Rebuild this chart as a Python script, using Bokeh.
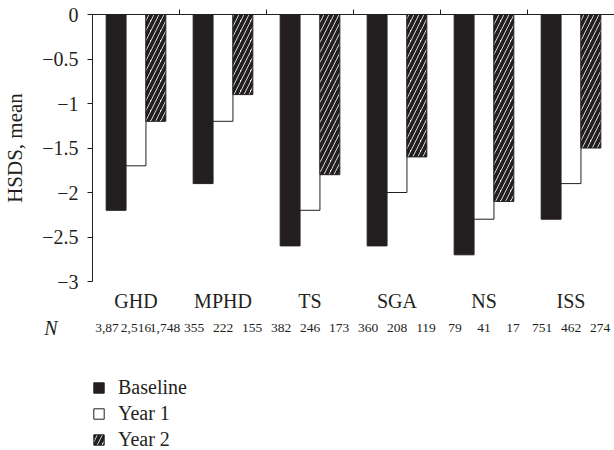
from bokeh.plotting import figure
from bokeh.layouts import column
from bokeh.models import (FactorRange, Range1d, CategoricalAxis, FixedTicker,
                          Legend, LegendItem, ColumnDataSource)
from bokeh.core.properties import value
from bokeh.embed import file_html
from bokeh.resources import INLINE

# ---- data ----
groups = ["GHD", "MPHD", "TS", "SGA", "NS", "ISS"]
series = ["Baseline", "Year 1", "Year 2"]
baseline = [-2.2, -1.9, -2.6, -2.6, -2.7, -2.3]
year1 = [-1.7, -1.2, -2.2, -2.0, -2.3, -1.9]
year2 = [-1.2, -0.9, -1.8, -1.6, -2.1, -1.5]
n_baseline = ["3,87", "355", "382", "360", "79", "751"]
n_year1 = ["2,516", "222", "246", "208", "41", "462"]
n_year2 = ["1,748", "155", "173", "119", "17", "274"]
y_ticks = [0, -0.5, -1, -1.5, -2, -2.5, -3]
y_tick_labels = ["0", "\u22120.5", "\u22121", "\u22121.5", "\u22122", "\u22122.5", "\u22123"]
y_title = "HSDS, mean"
n_title = "N"

FONT = "Liberation Serif"
INK = "#231f20"
W = 614

styles = [
    dict(fill_color=INK, line_color=INK),
    dict(fill_color="white", line_color=INK),
    dict(fill_color="white", line_color=INK, hatch_pattern="/", hatch_color=INK,
         hatch_scale=10, hatch_weight=3.8),
]
series_values = [baseline, year1, year2]
bar_factors = [(g, s) for g in groups for s in series]

# ================= main chart =================
x_range = FactorRange(factors=bar_factors, group_padding=1.375, range_padding=0.6875,
                      range_padding_units="absolute")

p = figure(width=W, height=314, x_range=x_range, y_range=Range1d(min(y_ticks), max(y_ticks)),
           output_backend="svg", toolbar_location=None, x_axis_location=None,
           min_border_left=92, min_border_right=0, min_border_top=14, min_border_bottom=33)
p.outline_line_color = None
p.grid.grid_line_color = None

for s, vals, st in zip(series, series_values, styles):
    src = ColumnDataSource(dict(x=[(g, s) for g in groups], top=vals))
    p.vbar(x="x", top="top", bottom=0, width=1.0, source=src, line_width=1, **st)

yax = p.yaxis[0]
yax.ticker = FixedTicker(ticks=y_ticks)
yax.major_label_overrides = {t: l for t, l in zip(y_ticks, y_tick_labels)}
yax.axis_label = y_title
yax.axis_label_text_font = FONT
yax.axis_label_text_font_size = "21px"
yax.axis_label_text_font_style = "normal"
yax.axis_label_text_color = INK
yax.axis_label_standoff = 12
yax.major_label_text_font = FONT
yax.major_label_text_font_size = "20px"
yax.major_label_text_color = INK
yax.major_label_standoff = 9
yax.major_tick_out = 5
yax.major_tick_in = 0
yax.minor_tick_line_color = None
yax.axis_line_color = INK
yax.major_tick_line_color = INK

boundaries = ["edge%d" % i for i in range(len(groups) + 1)]
p.extra_x_ranges = {
    "edges": FactorRange(factors=boundaries, range_padding=-0.5, range_padding_units="absolute"),
    "grp": FactorRange(factors=groups),
}

top = CategoricalAxis(x_range_name="edges", major_tick_out=5, major_tick_in=0,
                      major_label_text_font_size="0px", major_label_standoff=0,
                      axis_line_color=INK, major_tick_line_color=INK)
p.add_layout(top, "above")

gax = CategoricalAxis(x_range_name="grp", axis_line_color=None, major_tick_line_color=None,
                      major_tick_out=0, major_tick_in=0, major_label_standoff=8,
                      major_label_text_font=FONT, major_label_text_font_size="20px",
                      major_label_text_color=INK)
p.add_layout(gax, "below")

# ================= N row =================
n_factors = [(g, n) for g, a, b, c in zip(groups, n_baseline, n_year1, n_year2) for n in (a, b, c)]
n_text = [f[1] for f in n_factors]
pn = figure(width=W, height=26, x_range=FactorRange(factors=n_factors, group_padding=0.0,
                                                     range_padding=0.0, range_padding_units="absolute"),
            y_range=FactorRange(factors=[n_title]), output_backend="svg", toolbar_location=None,
            x_axis_location=None, min_border_left=92, min_border_right=0,
            min_border_top=0, min_border_bottom=0)
pn.outline_line_color = None
pn.grid.grid_line_color = None
nsrc = ColumnDataSource(dict(x=n_factors, y=[n_title] * len(n_factors), t=n_text))
pn.text(x="x", y="y", text="t", source=nsrc, text_align="center", text_baseline="middle",
        text_font=value(FONT), text_font_size=value("13.5px"), text_color=INK)
nyax = pn.yaxis[0]
nyax.axis_line_color = None
nyax.major_tick_line_color = None
nyax.major_tick_out = 0
nyax.major_tick_in = 0
nyax.major_label_standoff = 35
nyax.major_label_text_font = FONT
nyax.major_label_text_font_size = "20px"
nyax.major_label_text_font_style = "italic"
nyax.major_label_text_color = INK

# ================= legend =================
# The legend figure carries the same series, but its y window lies above the data,
# so only the legend keys are visible.
pl = figure(width=W, height=110, x_range=FactorRange(factors=bar_factors),
            y_range=Range1d(max(y_ticks) + 1, max(y_ticks) + 2),
            output_backend="svg", toolbar_location=None, x_axis_location=None,
            y_axis_location=None, min_border_left=92, min_border_right=0,
            min_border_top=0, min_border_bottom=0)
pl.outline_line_color = None
pl.grid.grid_line_color = None
items = []
for s, vals, st in zip(series, series_values, styles):
    lsrc = ColumnDataSource(dict(x=[(g, s) for g in groups], top=vals))
    r = pl.vbar(x="x", top="top", bottom=0, width=1.0, line_width=1, source=lsrc, **st)
    items.append(LegendItem(label=value(s), renderers=[r]))
legend = Legend(items=items, location=(0, -1), orientation="vertical", padding=0, margin=0,
                spacing=3, glyph_width=13, glyph_height=13, label_standoff=13, label_height=20,
                label_text_font=FONT, label_text_font_size="20px", label_text_color=INK,
                border_line_color=None, background_fill_alpha=0)
pl.add_layout(legend)

layout = column(p, pn, pl, spacing=0)
open("out.html", "w").write(file_html(layout, INLINE))
